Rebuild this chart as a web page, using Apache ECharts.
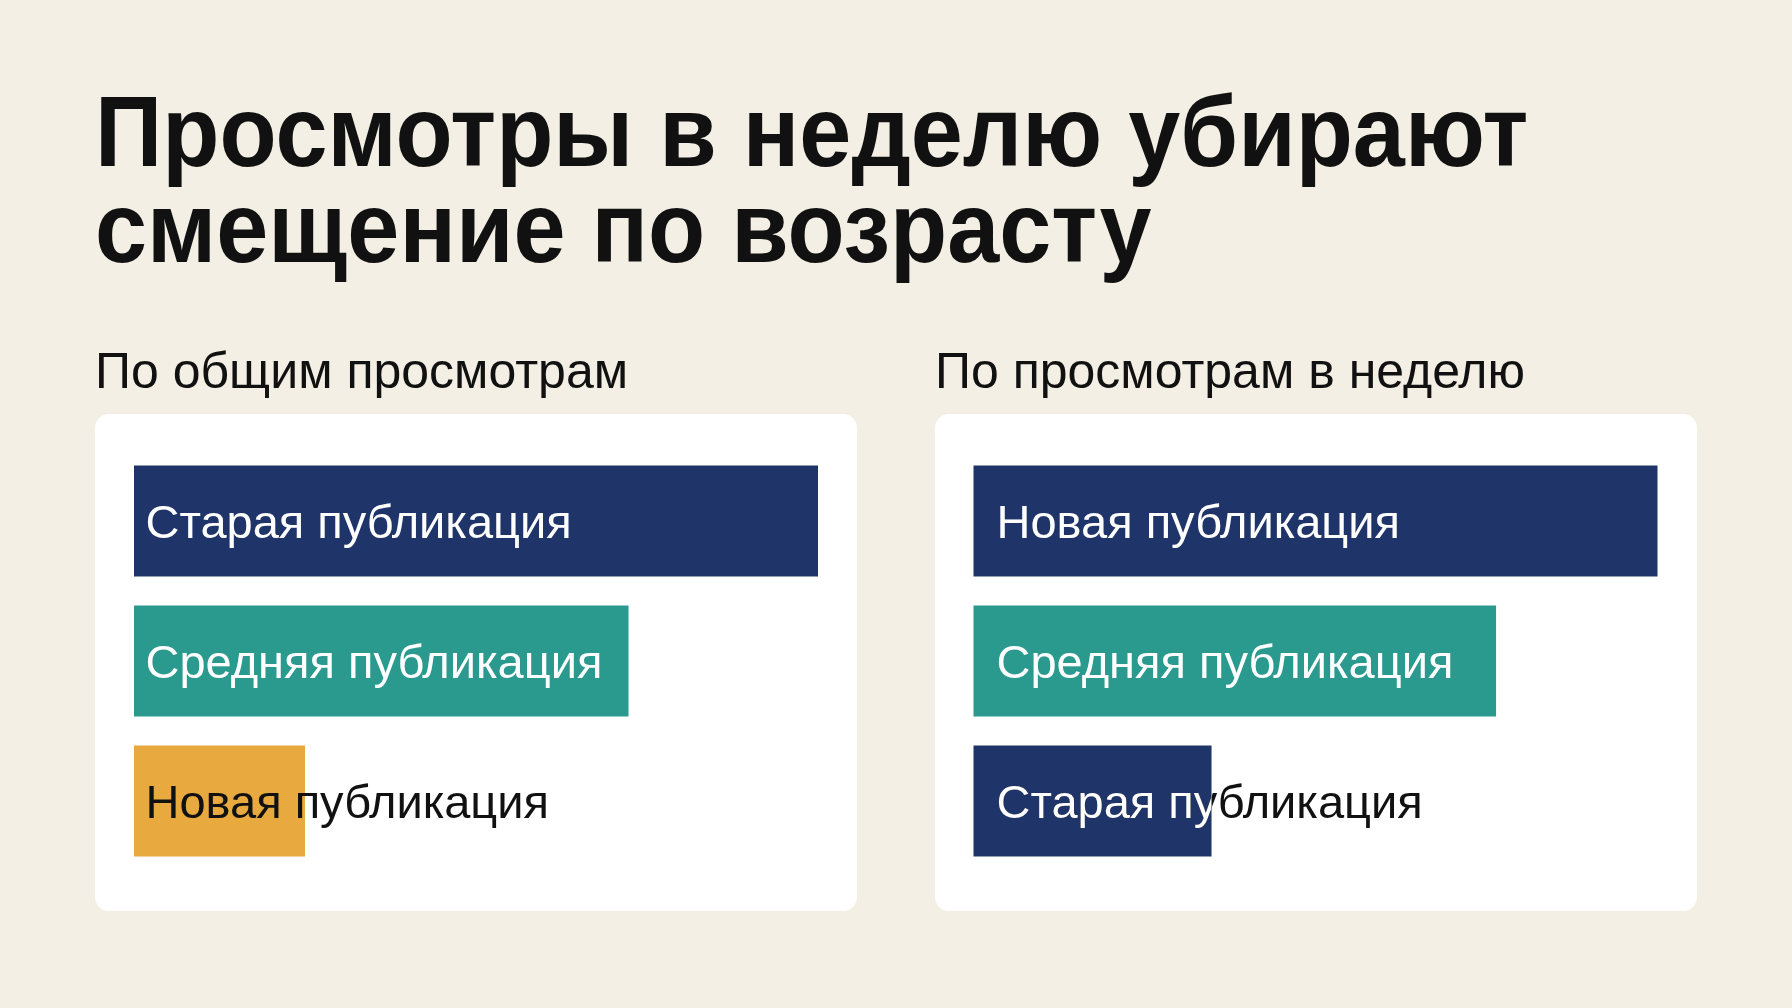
<!DOCTYPE html>
<html>
<head>
<meta charset="utf-8">
<title>Просмотры в неделю</title>
<script src="https://cdn.jsdelivr.net/npm/echarts@6/dist/echarts.min.js"></script>
<style>
  html, body { margin: 0; padding: 0; background: #f3efe5; }
  #chart { width: 1792px; height: 1008px; }
</style>
</head>
<body>
<div id="chart"></div>
<script>
// тексты
const titleText = 'Просмотры в неделю убирают\nсмещение по возрасту';
const leftTitle = 'По общим просмотрам';
const rightTitle = 'По просмотрам в неделю';

// данные (доля от максимума, %)
const leftCategories = ['Старая публикация', 'Средняя публикация', 'Новая публикация'];
const leftValues = [100, 72.3, 25];
const rightCategories = ['Новая публикация', 'Средняя публикация', 'Старая публикация'];
const rightValues = [100, 76.4, 34.8];

const FONT = '"Liberation Sans", Arial, sans-serif';
const NAVY = '#1f356a';
const TEAL = '#2a9a8e';
const AMBER = '#e8a93f';
const leftColors = [NAVY, TEAL, AMBER];
const rightColors = [NAVY, TEAL, NAVY];
const leftLabelColors = ['#fff', '#fff', '#111'];
const rightLabelColors = ['#fff', '#fff', '#111'];

const BAR_H = 111;
const LABEL_FS = 47;
const LABEL_DY = 4;
const RIGHT_DIST = 23;

function barSeries(idx, values, colors, labelColors, dist) {
  return {
    type: 'bar',
    xAxisIndex: idx,
    yAxisIndex: idx,
    barWidth: BAR_H,
    silent: true,
    z: 2,
    label: {
      show: true,
      position: 'insideLeft',
      distance: dist,
      offset: [0, LABEL_DY],
      formatter: '{b}',
      fontSize: LABEL_FS,
      fontFamily: FONT
    },
    data: values.map((v, i) => ({
      value: v,
      itemStyle: { color: colors[i] },
      label: { color: labelColors[i] }
    }))
  };
}

function heading(text, x, y, size, weight, lh, sx) {
  return {
    type: 'text', x: x, y: y, scaleX: sx, z: 1, silent: true,
    style: {
      text: text, fontSize: size, fontWeight: weight, fontFamily: FONT,
      lineHeight: lh, fill: '#111', verticalAlign: 'top', align: 'left'
    }
  };
}

let chart = echarts.init(document.getElementById('chart'));
chart.setOption({
  backgroundColor: '#f3efe5',
  animation: false,
  graphic: [
    heading(titleText, 95, 90, 100, 'bold', 96, 0.936),
    heading(leftTitle, 95, 349, 50, 'normal', 50, 1),
    heading(rightTitle, 935, 349, 50, 'normal', 50, 1),
    { type: 'rect', z: 0, shape: { x: 95, y: 414, width: 762, height: 497, r: 14 }, style: { fill: '#fff' } },
    { type: 'rect', z: 0, shape: { x: 935, y: 414, width: 762, height: 497, r: 14 }, style: { fill: '#fff' } }
  ],
  grid: [
    { left: 134, top: 451, width: 684, height: 420 },
    { left: 973.5, top: 451, width: 684, height: 420 }
  ],
  xAxis: [
    { type: 'value', gridIndex: 0, min: 0, max: 100, show: false },
    { type: 'value', gridIndex: 1, min: 0, max: 100, show: false }
  ],
  yAxis: [
    { type: 'category', gridIndex: 0, data: leftCategories, inverse: true, show: false },
    { type: 'category', gridIndex: 1, data: rightCategories, inverse: true, show: false }
  ],
  series: [
    barSeries(0, leftValues, leftColors, leftLabelColors, 11.5),
    barSeries(1, rightValues, rightColors, rightLabelColors, RIGHT_DIST),
    {
      // белая часть подписи поверх тёмного столбца
      type: 'custom',
      xAxisIndex: 1,
      yAxisIndex: 1,
      silent: true,
      z: 5,
      data: [[rightValues[2], 2]],
      renderItem: function (params, api) {
        const v = api.value(0);
        const c = api.value(1);
        const p0 = api.coord([0, c]);
        const p1 = api.coord([v, c]);
        return {
          type: 'text',
          style: {
            x: p0[0] + RIGHT_DIST,
            y: p0[1] + LABEL_DY,
            text: rightCategories[c],
            fill: '#fff',
            fontSize: LABEL_FS,
            fontFamily: FONT,
            align: 'left',
            verticalAlign: 'middle'
          },
          clipPath: {
            type: 'rect',
            shape: { x: p0[0], y: p0[1] - BAR_H / 2, width: p1[0] - p0[0], height: BAR_H }
          }
        };
      }
    }
  ]
});
</script>
</body>
</html>
